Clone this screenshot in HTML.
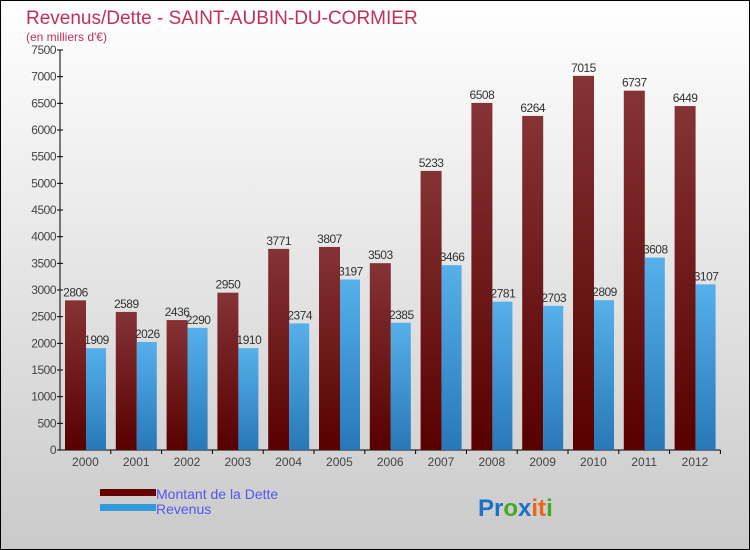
<!DOCTYPE html>
<html><head><meta charset="utf-8"><style>
body{margin:0}
svg{display:block;font-family:"Liberation Sans",sans-serif}
</style></head><body>
<svg id="c" width="750" height="550" viewBox="0 0 750 550">
<defs>
<linearGradient id="bg" x1="0" y1="0" x2="0" y2="1"><stop offset="0" stop-color="#ffffff"/><stop offset="1" stop-color="#cacaca"/></linearGradient>
<linearGradient id="gd" x1="0" y1="0" x2="0" y2="1"><stop offset="0" stop-color="#853335"/><stop offset="1" stop-color="#580000"/></linearGradient>
<linearGradient id="gr" x1="0" y1="0" x2="0" y2="1"><stop offset="0" stop-color="#56b0ea"/><stop offset="1" stop-color="#2878b8"/></linearGradient>
</defs>
<rect x="0.5" y="0.5" width="749" height="549" fill="url(#bg)" stroke="#000"/>
<text x="26" y="24" font-size="19" fill="#c0305a">Revenus/Dette - SAINT-AUBIN-DU-CORMIER</text>
<text x="26" y="41" font-size="12" fill="#c0305a">(en milliers d'€)</text>
<g id="axes"></g>
<g id="bars"></g>
<rect x="100" y="489" width="56" height="7" fill="#660000"/>
<text x="156" y="499" font-size="14" fill="#5555ee">Montant de la Dette</text>
<rect x="100" y="504" width="56" height="7" fill="#3399dd"/>
<text x="156" y="514" font-size="14" fill="#5555ee">Revenus</text>
<text x="478" y="516" font-size="24" font-weight="bold"><tspan fill="#1a73c8">Pr</tspan><tspan fill="#44aa22">o</tspan><tspan fill="#1a73c8">x</tspan><tspan fill="#ee6611">it</tspan><tspan fill="#44aa22">i</tspan></text>
</svg>
<script>
const years=["2000","2001","2002","2003","2004","2005","2006","2007","2008","2009","2010","2011","2012"];
const dette=[2806,2589,2436,2950,3771,3807,3503,5233,6508,6264,7015,6737,6449];
const revenus=[1909,2026,2290,1910,2374,3197,2385,3466,2781,2703,2809,3608,3107];
const yTicks=[0,500,1000,1500,2000,2500,3000,3500,4000,4500,5000,5500,6000,6500,7000,7500];
const NS="http://www.w3.org/2000/svg";
const X0=60,STEP=50.8,Y0=450,YMAX=7500,H=400;
const y=v=>Y0-v/YMAX*H;
const gx=i=>X0+i*STEP;
function mk(t,a,p){const e=document.createElementNS(NS,t);for(const k in a)e.setAttribute(k,a[k]);p.appendChild(e);return e;}
const ax=document.getElementById('axes'),bg=document.getElementById('bars');
const yl=mk('line',{x1:X0,y1:50,x2:X0,y2:Y0,stroke:'#000'},ax);


const xl=mk('line',{x1:X0,y1:Y0,x2:gx(13),y2:Y0,stroke:'#000'},ax);


yTicks.forEach(v=>{
 mk('line',{x1:X0-3,y1:y(v),x2:X0+3,y2:y(v),stroke:'#000'},ax);
 const t=mk('text',{x:X0-4,y:y(v)+4,'font-size':12,'text-anchor':'end',fill:'#444','letter-spacing':'-0.5'},ax);
 t.textContent=v;
 
 
});
years.forEach((yr,i)=>{
 mk('line',{x1:gx(i+1),y1:Y0,x2:gx(i+1),y2:Y0+4,stroke:'#000'},ax);
 const t=mk('text',{x:gx(i)+STEP/2,y:Y0+16,'font-size':12,'text-anchor':'middle',fill:'#444'},ax);
 t.textContent=yr;
 
 
 const xd=gx(i)+5,xr=gx(i)+26,w=21;
 const bd=mk('rect',{x:xd,y:y(dette[i]),width:w,height:Y0-y(dette[i]),fill:'url(#gd)'},bg);
 
 
 const br=mk('rect',{x:xr,y:y(revenus[i]),width:w-1,height:Y0-y(revenus[i]),fill:'url(#gr)'},bg);
 
 
 const ld=mk('text',{x:xd+w/2,y:y(dette[i])-4,'font-size':12,'text-anchor':'middle',fill:'#333','letter-spacing':'-0.5'},bg);
 ld.textContent=dette[i];
 
 
 const lr=mk('text',{x:xr+w/2,y:y(revenus[i])-4,'font-size':12,'text-anchor':'middle',fill:'#333','letter-spacing':'-0.5'},bg);
 lr.textContent=revenus[i];
 
 
});
</script>
</body></html>
